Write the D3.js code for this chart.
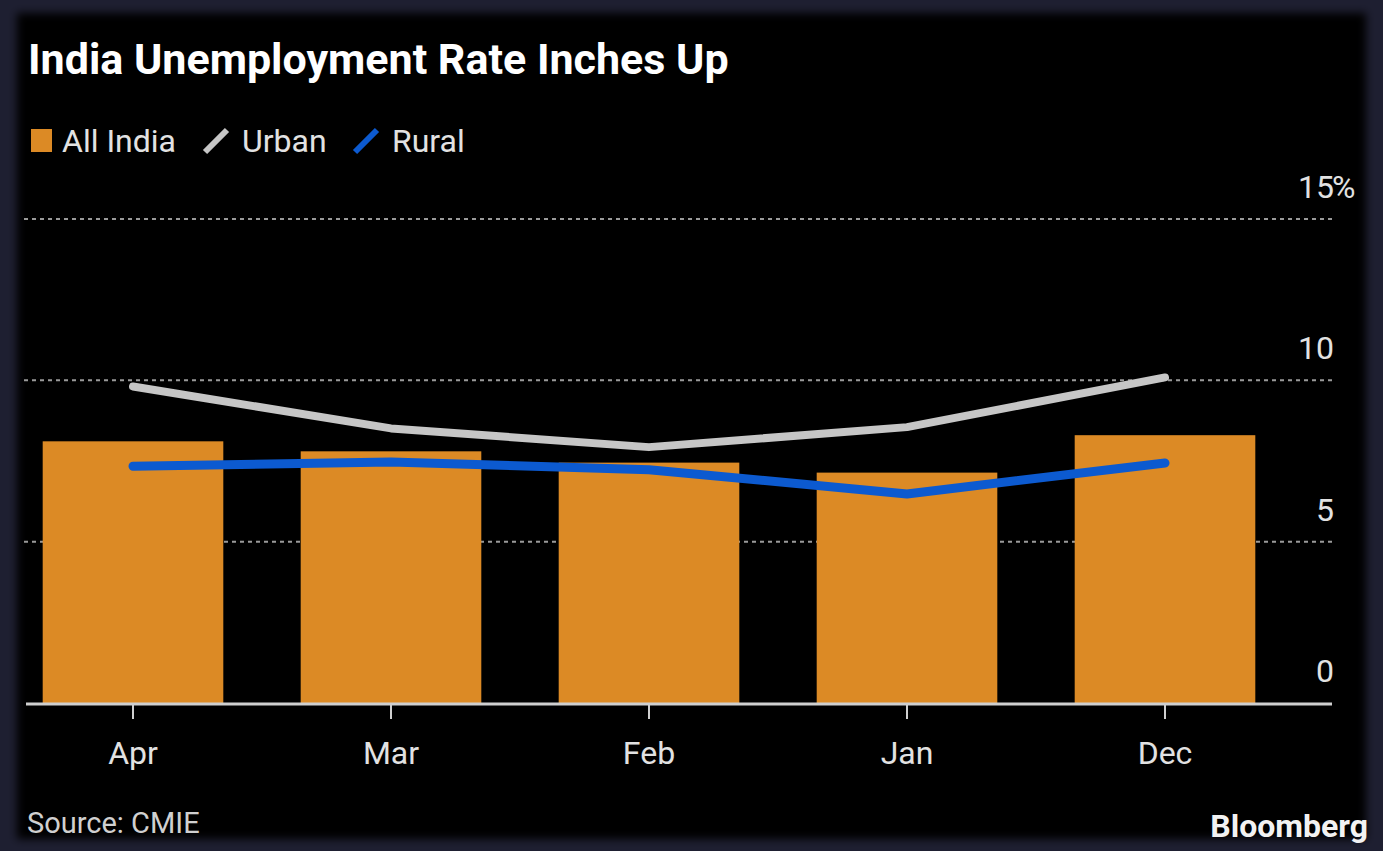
<!DOCTYPE html>
<html>
<head>
	<meta charset="utf-8">
	<title>India Unemployment Rate Inches Up</title>
	<style>
		body { margin: 0; background: #1e1f31; }
		svg { display: block; }
	</style>
</head>
<body onload="init()">
	<svg width="1383" height="851"></svg>
</body>
<script src="https://cdn.jsdelivr.net/npm/d3@7"></script>
<script>
	// data
	const months = ["Apr", "Mar", "Feb", "Jan", "Dec"]
	const allIndia = [8.11, 7.8, 7.45, 7.14, 8.3]
	const urban = [9.81, 8.51, 7.93, 8.55, 10.09]
	const rural = [7.34, 7.47, 7.23, 6.48, 7.44]
	const yTicks = [0, 5, 10, 15]

	const FONT = "Roboto, 'Noto Sans', sans-serif"
	const ORANGE = "#dc8a25", GREY = "#c6c6c6", BLUE = "#0c5ad0"

	function init() {
		let svg = d3.select("svg")

		// frame + black panel with soft edge
		svg.append("rect").attr("width", 1383).attr("height", 851).attr("fill", "#1e1f31")
		let defs = svg.append("defs")
		defs.append("filter").attr("id", "soft")
			.attr("x", "-5%").attr("y", "-5%").attr("width", "110%").attr("height", "110%")
			.append("feGaussianBlur").attr("stdDeviation", 4)
		svg.append("rect")
			.attr("x", 17).attr("y", 13).attr("width", 1349).attr("height", 826)
			.attr("fill", "#000").attr("filter", "url(#soft)")

		// scales
		let x = d3.scaleBand().domain(months).range([4, 1294]).paddingInner(0.3).paddingOuter(0.15)
		let y = d3.scaleLinear().domain([0, 15]).range([703, 219])

		// dotted grid
		svg.append("g").selectAll("line").data(yTicks.filter(d => d > 0)).enter().append("line")
			.attr("x1", 24).attr("x2", 1332)
			.attr("y1", d => y(d)).attr("y2", d => y(d))
			.attr("stroke", "#9a9a9a").attr("stroke-width", 2).attr("stroke-dasharray", "4,4")

		// y labels
		let yl = svg.append("g").attr("font-family", FONT).attr("font-size", 32).attr("fill", "#e2e2e2")
		yl.selectAll("text").data(yTicks).enter().append("text")
			.attr("x", 1334).attr("y", d => y(d) - 21)
			.attr("text-anchor", "end")
			.text(d => d)
		yl.append("text").attr("x", 1332).attr("y", y(15) - 21).attr("letter-spacing", -1).text("%")

		// bars
		svg.append("g").selectAll("rect").data(allIndia).enter().append("rect")
			.attr("x", (d, i) => x(months[i])).attr("width", x.bandwidth())
			.attr("y", d => y(d)).attr("height", d => y(0) - y(d))
			.attr("fill", ORANGE)

		// baseline + ticks
		svg.append("line").attr("x1", 26).attr("x2", 1332).attr("y1", y(0) + 1).attr("y2", y(0) + 1)
			.attr("stroke", "#cfcfcf").attr("stroke-width", 3)
		svg.append("g").selectAll("line").data(months).enter().append("line")
			.attr("x1", d => x(d) + x.bandwidth() / 2).attr("x2", d => x(d) + x.bandwidth() / 2)
			.attr("y1", y(0) + 2).attr("y2", y(0) + 16)
			.attr("stroke", "#cfcfcf").attr("stroke-width", 2)

		// x labels
		svg.append("g").selectAll("text").data(months).enter().append("text")
			.attr("x", d => x(d) + x.bandwidth() / 2).attr("y", 764)
			.attr("text-anchor", "middle")
			.attr("font-family", FONT).attr("font-size", 32).attr("fill", "#e2e2e2")
			.text(d => d)

		// lines
		let line = d3.line().x((d, i) => x(months[i]) + x.bandwidth() / 2).y(d => y(d))
		;[[urban, GREY, 8], [rural, BLUE, 9]].forEach(s => {
			svg.append("path").attr("d", line(s[0]))
				.attr("fill", "none").attr("stroke", s[1]).attr("stroke-width", s[2])
				.attr("stroke-linecap", "round").attr("stroke-linejoin", "round")
		})

		// title
		svg.append("text").attr("x", 28).attr("y", 74)
			.attr("font-family", FONT).attr("font-weight", 700).attr("font-size", 43).attr("fill", "#fff")
			.text("India Unemployment Rate Inches Up")

		// legend
		let lg = svg.append("g").attr("font-family", FONT).attr("font-size", 32).attr("fill", "#e2e2e2")
		lg.append("rect").attr("x", 31).attr("y", 129).attr("width", 21).attr("height", 23).attr("fill", ORANGE)
		lg.append("text").attr("x", 62).attr("y", 152).text("All India")
		lg.append("line").attr("x1", 205).attr("y1", 152).attr("x2", 227).attr("y2", 130)
			.attr("stroke", GREY).attr("stroke-width", 6)
		lg.append("text").attr("x", 242).attr("y", 152).text("Urban")
		lg.append("line").attr("x1", 355).attr("y1", 152).attr("x2", 377).attr("y2", 130)
			.attr("stroke", BLUE).attr("stroke-width", 6)
		lg.append("text").attr("x", 392).attr("y", 152).text("Rural")

		// footer
		svg.append("text").attr("x", 27).attr("y", 833)
			.attr("font-family", FONT).attr("font-size", 29).attr("fill", "#d0d0d0")
			.text("Source: CMIE")
		svg.append("text").attr("x", 1368).attr("y", 837).attr("text-anchor", "end")
			.attr("font-family", FONT).attr("font-weight", 700).attr("font-size", 32).attr("fill", "#f2f2f2")
			.text("Bloomberg")
	}
</script>
</html>
